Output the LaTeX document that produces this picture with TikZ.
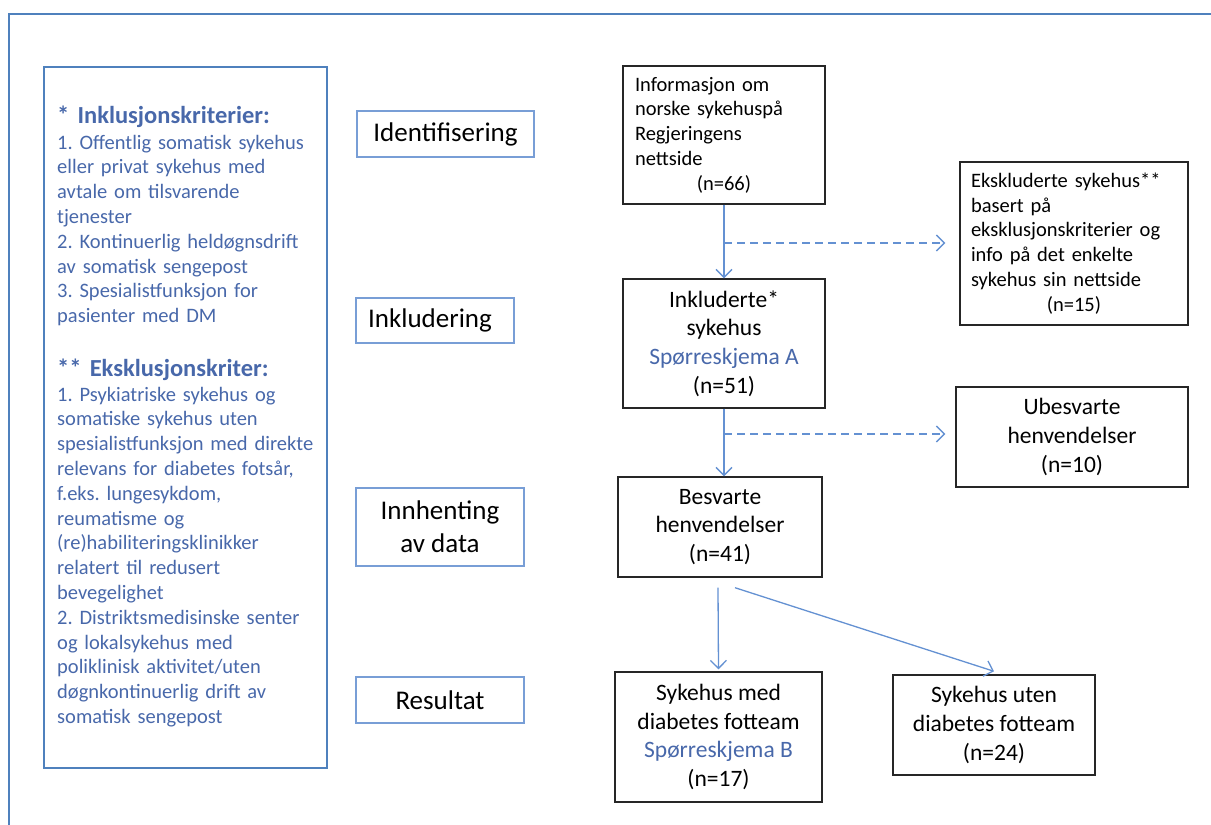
\documentclass[tikz,border=0pt]{standalone}
\usepackage{fontspec}
\setmainfont{Carlito}
\frenchspacing
\usetikzlibrary{arrows.meta}
\definecolor{frameblue}{RGB}{79,129,189}
\definecolor{stageblue}{RGB}{120,158,214}
\definecolor{arrowblue}{RGB}{100,145,210}
\definecolor{textblue}{RGB}{72,104,170}
\begin{document}
\begin{tikzpicture}[x=1pt,y=-1pt,
  box/.style={draw=black!85,line width=1.4pt,inner sep=0pt,align=center},
  stagebox/.style={draw=stageblue,line width=1.4pt,inner sep=0pt,align=center,font=\fontsize{27}{33}\selectfont},
  mid/.style={font=\fontsize{23.5}{28.8}\selectfont},
  small/.style={font=\fontsize{20.5}{24.8}\selectfont},
  crittext/.style={anchor=base west,inner sep=0pt,text width=265pt,align=left,text=textblue},
  arr/.style={draw=arrowblue,line width=1.3pt,-{Straight Barb[length=8pt,width=16pt,line width=1.3pt]}},
  darr/.style={arr,dash pattern=on 8pt off 5pt},
]
\useasboundingbox (0,0) rectangle (1211,825);
% outer frame
\draw[frameblue,line width=2pt] (1211,14) -- (9,14) -- (9,825);

% criteria box
\node[draw=frameblue,line width=1.4pt,minimum width=283pt,minimum height=701pt,inner sep=0pt] (crit) at (185.5,417.5) {};
\node[crittext,font=\bfseries\fontsize{24.5}{28}\selectfont] (h1) at (57,123) {* Inklusjonskriterier:};
\node[crittext,small] (l1) at (57,149) {1. Offentlig somatisk sykehus\\eller privat sykehus med\\avtale om tilsvarende\\tjenester\\2. Kontinuerlig heldøgnsdrift\\av somatisk sengepost\\3. Spesialistfunksjon for\\pasienter med DM};
\node[crittext,font=\bfseries\fontsize{24.5}{28}\selectfont] (h2) at (57,376) {** Eksklusjonskriter:};
\node[crittext,small] (l2) at (57,401) {1. Psykiatriske sykehus og\\somatiske sykehus uten\\spesialistfunksjon med direkte\\relevans for diabetes fotsår,\\f.eks. lungesykdom,\\reumatisme og\\(re)habiliteringsklinikker\\relatert til redusert\\bevegelighet\\2. Distriktsmedisinske senter\\og lokalsykehus med\\poliklinisk aktivitet/uten\\døgnkontinuerlig drift av\\somatisk sengepost};

% stage boxes
\node[stagebox,minimum width=177pt,minimum height=46pt] (s1) at (445.5,134) {Identifisering};
\node[stagebox,minimum width=158pt,minimum height=45pt] (s2) at (435,320.5) {Inkludering\hspace*{10pt}};
\node[stagebox,minimum width=168pt,minimum height=78pt] (s3) at (440,527) {Innhenting\\av data};
\node[stagebox,minimum width=168pt,minimum height=46pt] (s4) at (440,700) {Resultat};

% flow boxes
\node[box,small,minimum width=202pt,minimum height=138pt,text width=178pt,align=left] (a) at (724,135)
  {Informasjon om\\norske sykehuspå\\Regjeringens\\nettside\\\makebox[178pt]{(n=66)}};
\node[box,small,minimum width=228pt,minimum height=163pt,text width=206pt,align=left] (b) at (1074,243.5)
  {Ekskluderte sykehus**\\basert på\\eksklusjonskriterier og\\info på det enkelte\\sykehus sin nettside\\\makebox[206pt]{(n=15)}};
\node[box,mid,minimum width=202pt,minimum height=129pt] (c) at (724,343.5)
  {Inkluderte*\\sykehus\\\textcolor{textblue}{Spørreskjema A}\\(n=51)};
\node[box,mid,minimum width=232pt,minimum height=100pt] (d) at (1072,437)
  {Ubesvarte\\henvendelser\\(n=10)};
\node[box,mid,minimum width=204pt,minimum height=100pt] (e) at (720,527)
  {Besvarte\\henvendelser\\(n=41)};
\node[box,mid,minimum width=207pt,minimum height=130pt] (f) at (718.5,737)
  {Sykehus med\\diabetes fotteam\\\textcolor{textblue}{Spørreskjema B}\\(n=17)};
\node[box,mid,minimum width=202pt,minimum height=100pt] (g) at (994,725)
  {Sykehus uten\\diabetes fotteam\\(n=24)};

% connectors
\draw[arr] (a.south) -- (c.north);
\coordinate (d1) at (724,243);
\draw[darr,shorten >=14pt] (d1) -- (d1 -| b.west);
\draw[arr] (c.south) -- (c.south |- e.north);
\coordinate (d2) at (724,434);
\draw[darr,shorten >=10pt] (d2) -- (d2 -| d.west);
\draw[arr] ([xshift=-2pt,yshift=-10pt]e.south) -- ([yshift=2pt]f.north);
\draw[arr] ([xshift=15pt,yshift=-10pt]e.south) -- ([yshift=3pt]g.north);
\end{tikzpicture}
\end{document}
